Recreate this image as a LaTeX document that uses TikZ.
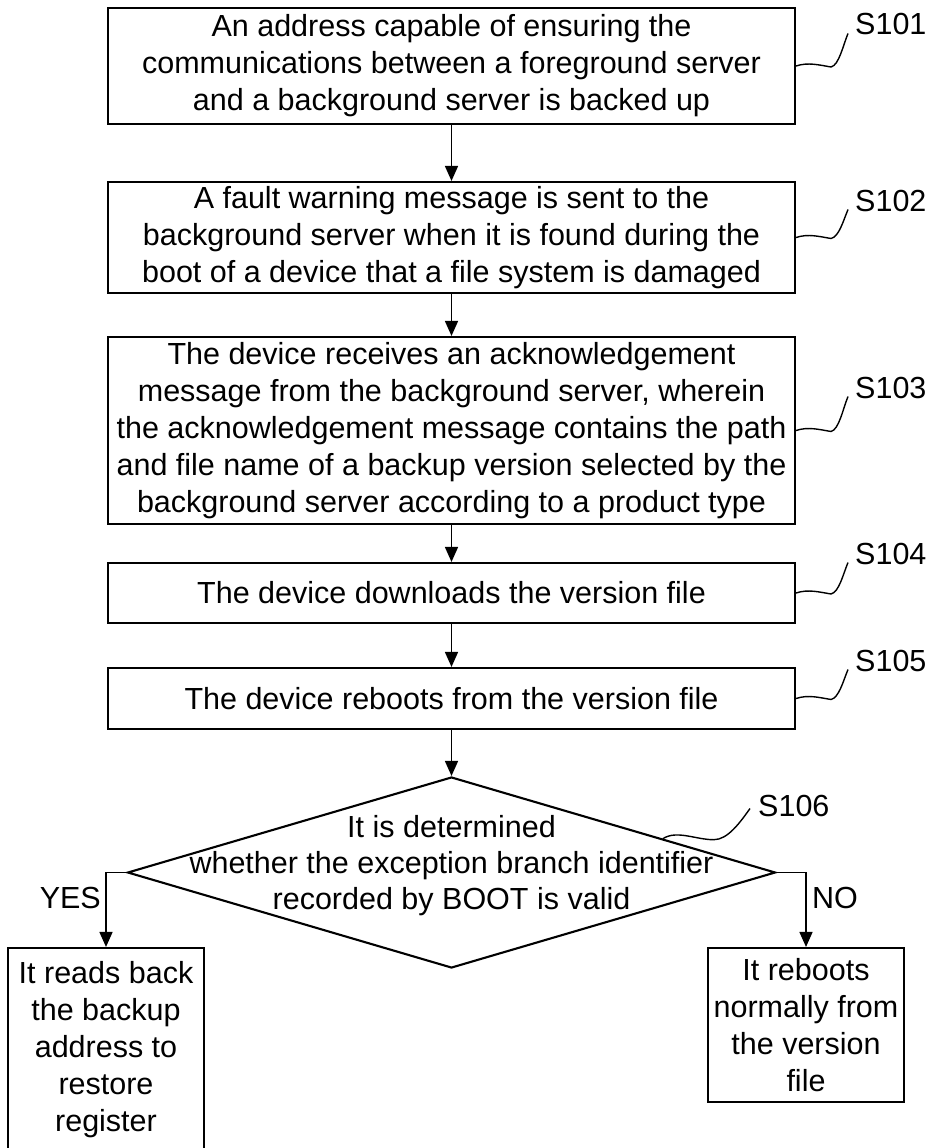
\documentclass[tikz,border=0pt]{standalone}
\usepackage{fontspec}
\setmainfont{Liberation Sans}
\usetikzlibrary{shapes.geometric,arrows.meta,calc}
\begin{document}
\begin{tikzpicture}[x=1pt,y=-1pt,
  box/.style={draw,line width=2.1pt,rectangle,align=center,inner sep=0pt,font=\fontsize{30.5}{37}\selectfont},
  flow/.style={line width=1.5pt,-{Triangle[length=15pt,width=13pt]}},
  lbl/.style={font=\fontsize{30.5}{37}\selectfont,inner sep=0pt},
  squig/.style={line width=1.4pt}
]
\useasboundingbox (0,0) rectangle (927,1148);

\node[box,minimum width=687pt,minimum height=116pt] (b1) at (451.5,66)
  {An address capable of ensuring the\\communications between a foreground server\\and a background server is backed up};
\node[box,minimum width=687pt,minimum height=111pt] (b2) at (451.5,237.5)
  {A fault warning message is sent to the\\background server when it is found during the\\boot of a device that a file system is damaged};
\node[box,minimum width=687pt,minimum height=187pt] (b3) at (451.5,430.5)
  {The device receives an acknowledgement\\message from the background server, wherein\\the acknowledgement message contains the path\\and file name of a backup version selected by the\\background server according to a product type};
\node[box,minimum width=687pt,minimum height=60pt] (b4) at (451.5,593)
  {The device downloads the version file};
\node[box,minimum width=687pt,minimum height=61pt] (b5) at (451.5,698.5)
  {The device reboots from the version file};

\node[draw,diamond,line width=2.1pt,minimum width=648pt,minimum height=191pt,inner sep=0pt] (dia) at (451.5,872.5) {};
\node[lbl,align=center,font=\fontsize{30.5}{36}\selectfont] (dt) at (451.5,866)
  {It is determined\\whether the exception branch identifier\\recorded by BOOT is valid};

\node[box,minimum width=196pt,minimum height=204pt] (lb) at (106,1050)
  {It reads back\\the backup\\address to\\restore\\register};
\node[box,minimum width=196pt,minimum height=154pt] (rb) at (806,1025)
  {It reboots\\normally from\\the version\\file};

\draw[flow] (b1.south) -- (b2.north);
\draw[flow] (b2.south) -- (b3.north);
\draw[flow] (b3.south) -- (b4.north);
\draw[flow] (b4.south) -- (b5.north);
\draw[flow] (b5.south) -- (dia.north);
\draw[flow] (dia.west) -| (lb.north);
\draw[flow] (dia.east) -| (rb.north);

\node[lbl,anchor=base east] (yes) at (101,908) {YES};
\node[lbl,anchor=base west] (no) at (812,908) {NO};

\node[lbl,anchor=base west] (s1) at (855,35) {S101};
\node[lbl,anchor=base west] (s2) at (855,211) {S102};
\node[lbl,anchor=base west] (s3) at (855,398) {S103};
\node[lbl,anchor=base west] (s4) at (855,564) {S104};
\node[lbl,anchor=base west] (s5) at (855,671) {S105};
\node[lbl,anchor=base west] (s6) at (758,816) {S106};

\foreach \b/\s in {b1/s1,b2/s2,b3/s3,b4/s4,b5/s5}{
  \draw[squig] (\b.east) .. controls +(12,-4) and +(-12,-2) .. ($(\b.east)+(35,1)$)
     .. controls +(8,-2) and +(-5,12) .. ($(\s.south west)+(-7,-2)$);
}
\coordinate (d6) at ($(dia.north)!0.65!(dia.east)$);
\draw[squig] (d6) .. controls +(14,-9) and +(-18,0) .. ($(d6)+(51,1)$)
   .. controls +(14,0) and +(-10,14) .. ($(s6.south west)+(-8,-8)$);
\end{tikzpicture}
\end{document}
